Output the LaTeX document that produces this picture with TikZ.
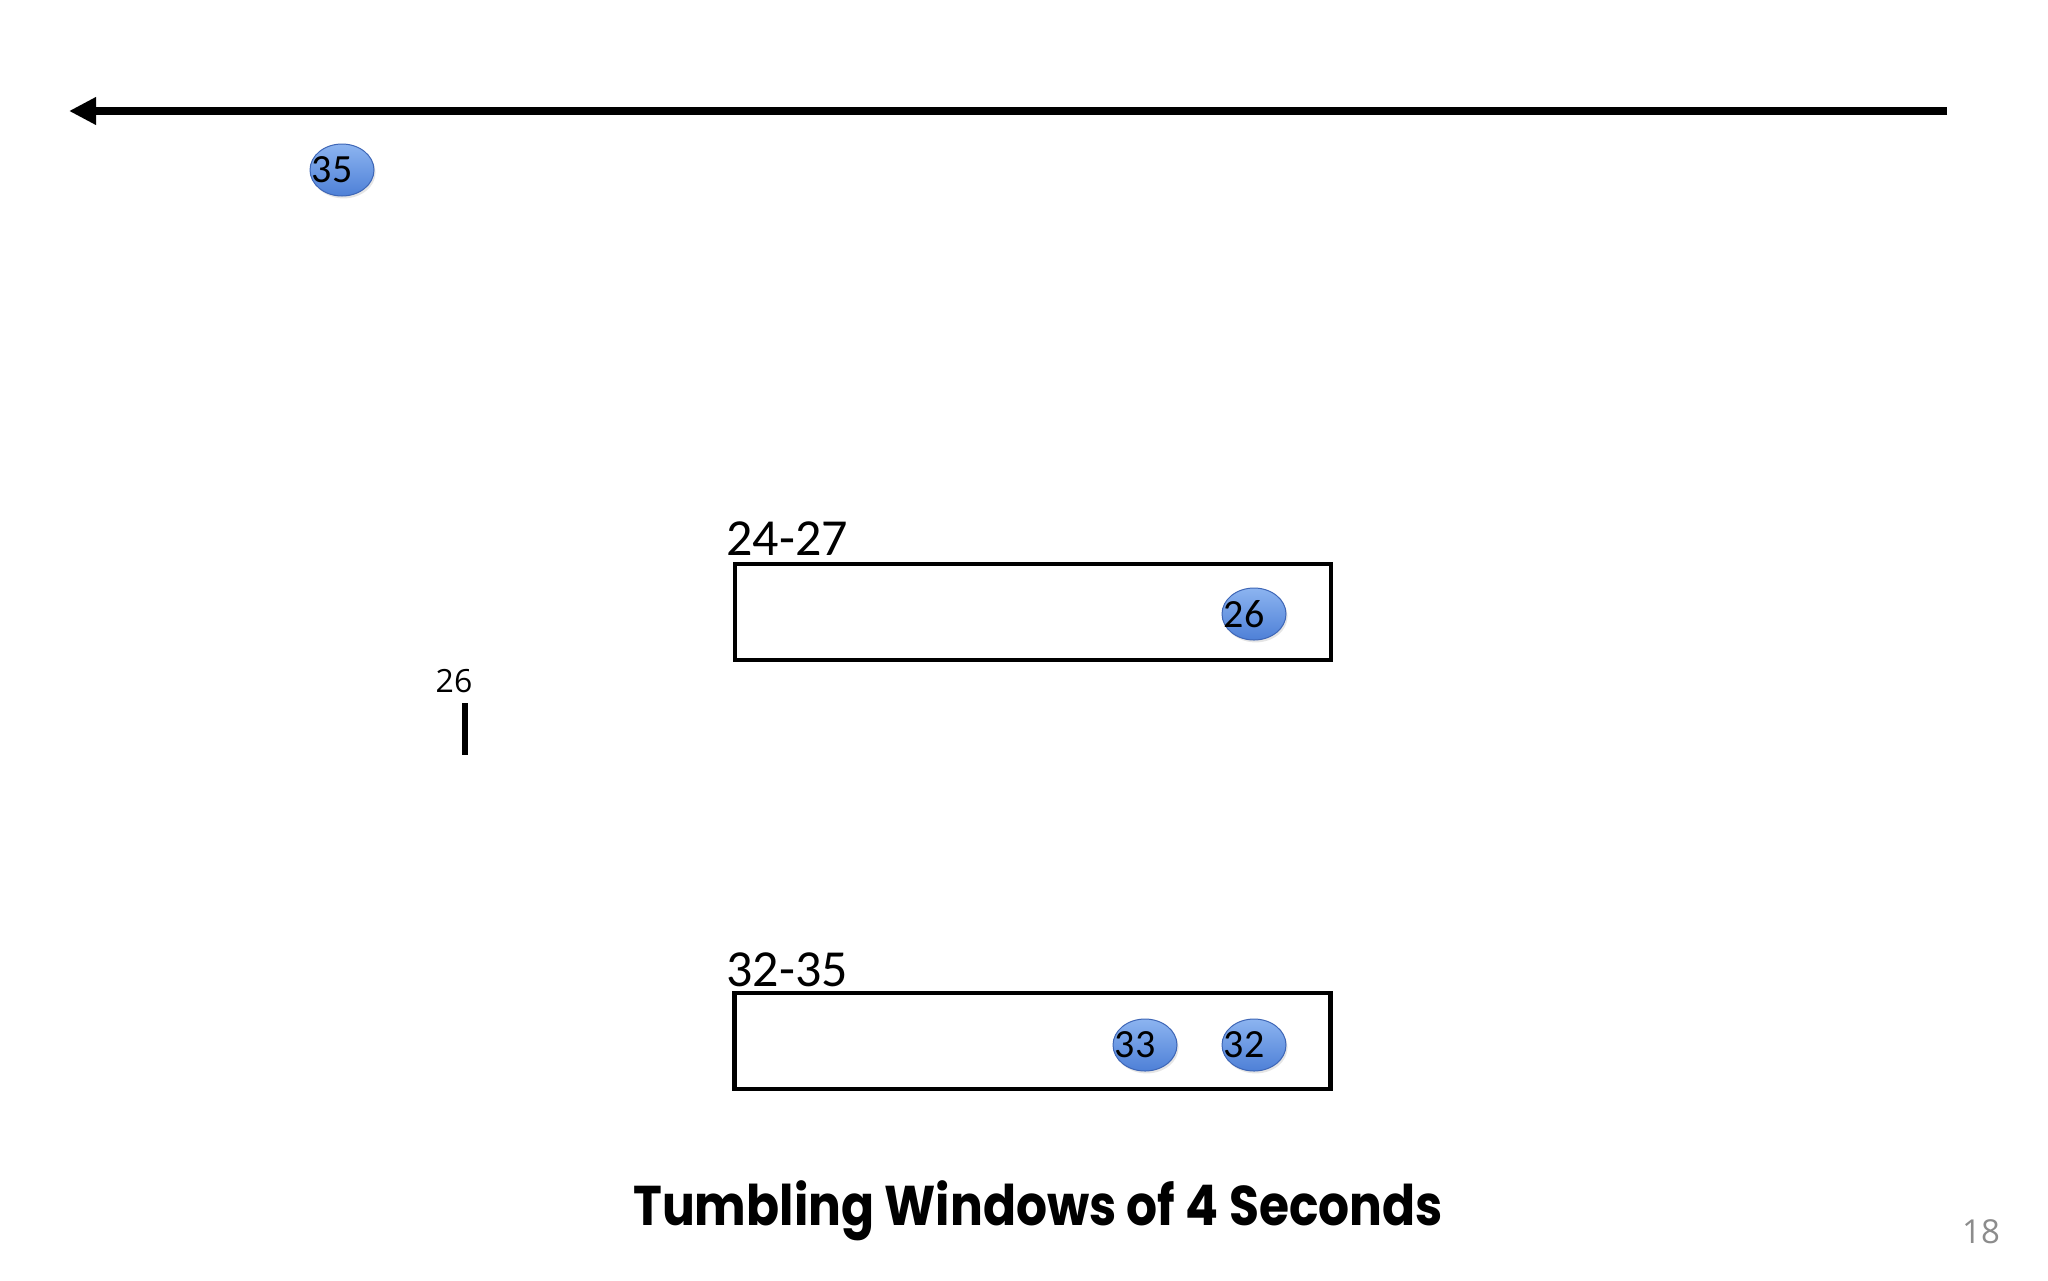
\documentclass[tikz,border=0pt]{standalone}
\usepackage{fontspec}
\setmainfont{Carlito}
\newfontfamily\wmfont{Open Sans}
\newfontfamily\titlefont{Poppins}
\usetikzlibrary{arrows.meta, shapes.geometric, shadows, positioning}
\definecolor{ballTop}{RGB}{140,180,240}
\definecolor{ballBot}{RGB}{78,128,215}
\definecolor{ballEdge}{RGB}{62,102,182}
\definecolor{pageGray}{RGB}{140,140,140}
\tikzstyle{timeLine} = [line width=4pt, -{Triangle[length=13.5pt,width=13pt]}]
\tikzstyle{window} = [draw, rectangle, line width=2.4pt,
   minimum width=298pt, minimum height=48pt, inner sep=0pt]
\tikzstyle{event} = [ellipse, draw=ballEdge, line width=0.5pt,
   top color=ballTop, bottom color=ballBot,
   minimum width=32pt, minimum height=26pt, inner sep=0pt,
   drop shadow={opacity=0.2, shadow xshift=0.8pt, shadow yshift=-1.2pt}]
\tikzstyle{eventNum} = [anchor=west, inner sep=0pt, xshift=1pt,
   font=\fontsize{20}{20}\selectfont]
\tikzstyle{winLabel} = [anchor=base west, inner sep=0pt,
   font=\fontsize{26}{26}\selectfont]

\begin{document}
\begin{tikzpicture}[x=0.5pt, y=-0.5pt]
  \fill[white] (0,0) rectangle (2048,1280);
  \useasboundingbox (0,0) rectangle (2048,1280);
  % time axis
  \coordinate (tNow) at (1947,111);
  \coordinate (tPast) at (69,111);
  \draw[timeLine] (tNow) -- (tPast);
  \node[event] (e35) at (342,170) {};
  \node[eventNum] (n35) at (e35.west) {35};
  % watermark
  \node[inner sep=0pt, anchor=base, font=\wmfont\fontsize{16}{16}\selectfont] (wmLabel) at (454,692) {26};
  \coordinate (wmTop) at (465,703);
  \coordinate (wmBot) at (465,755);
  \draw[line width=2.7pt] (wmTop) -- (wmBot);
  % windows
  \node[window] (w1) at (1033,612) {};
  \node[winLabel] (w1lbl) at (726,555) {24-27};
  \node[event] (e26) at (1254,614) {};
  \node[eventNum] (n26) at (e26.west) {26};
  \node[window] (w2) at (1032.5,1041) {};
  \node[winLabel] (w2lbl) at (726,986) {32-35};
  \node[event] (e33) at (1145,1045) {};
  \node[eventNum] (n33) at (e33.west) {33};
  \node[event] (e32) at (1254,1045) {};
  \node[eventNum] (n32) at (e32.west) {32};
  % caption
  \node[anchor=base, inner sep=0pt, font=\titlefont\bfseries\fontsize{28}{28}\selectfont] (caption) at (1038,1225) {\scalebox{0.87}[1]{Tumbling Windows of 4 Seconds}};
  \node[anchor=base, inner sep=0pt, text=pageGray, font=\wmfont\fontsize{16.5}{16.5}\selectfont] (pageNo) at (1981,1243) {18};
\end{tikzpicture}
\end{document}
